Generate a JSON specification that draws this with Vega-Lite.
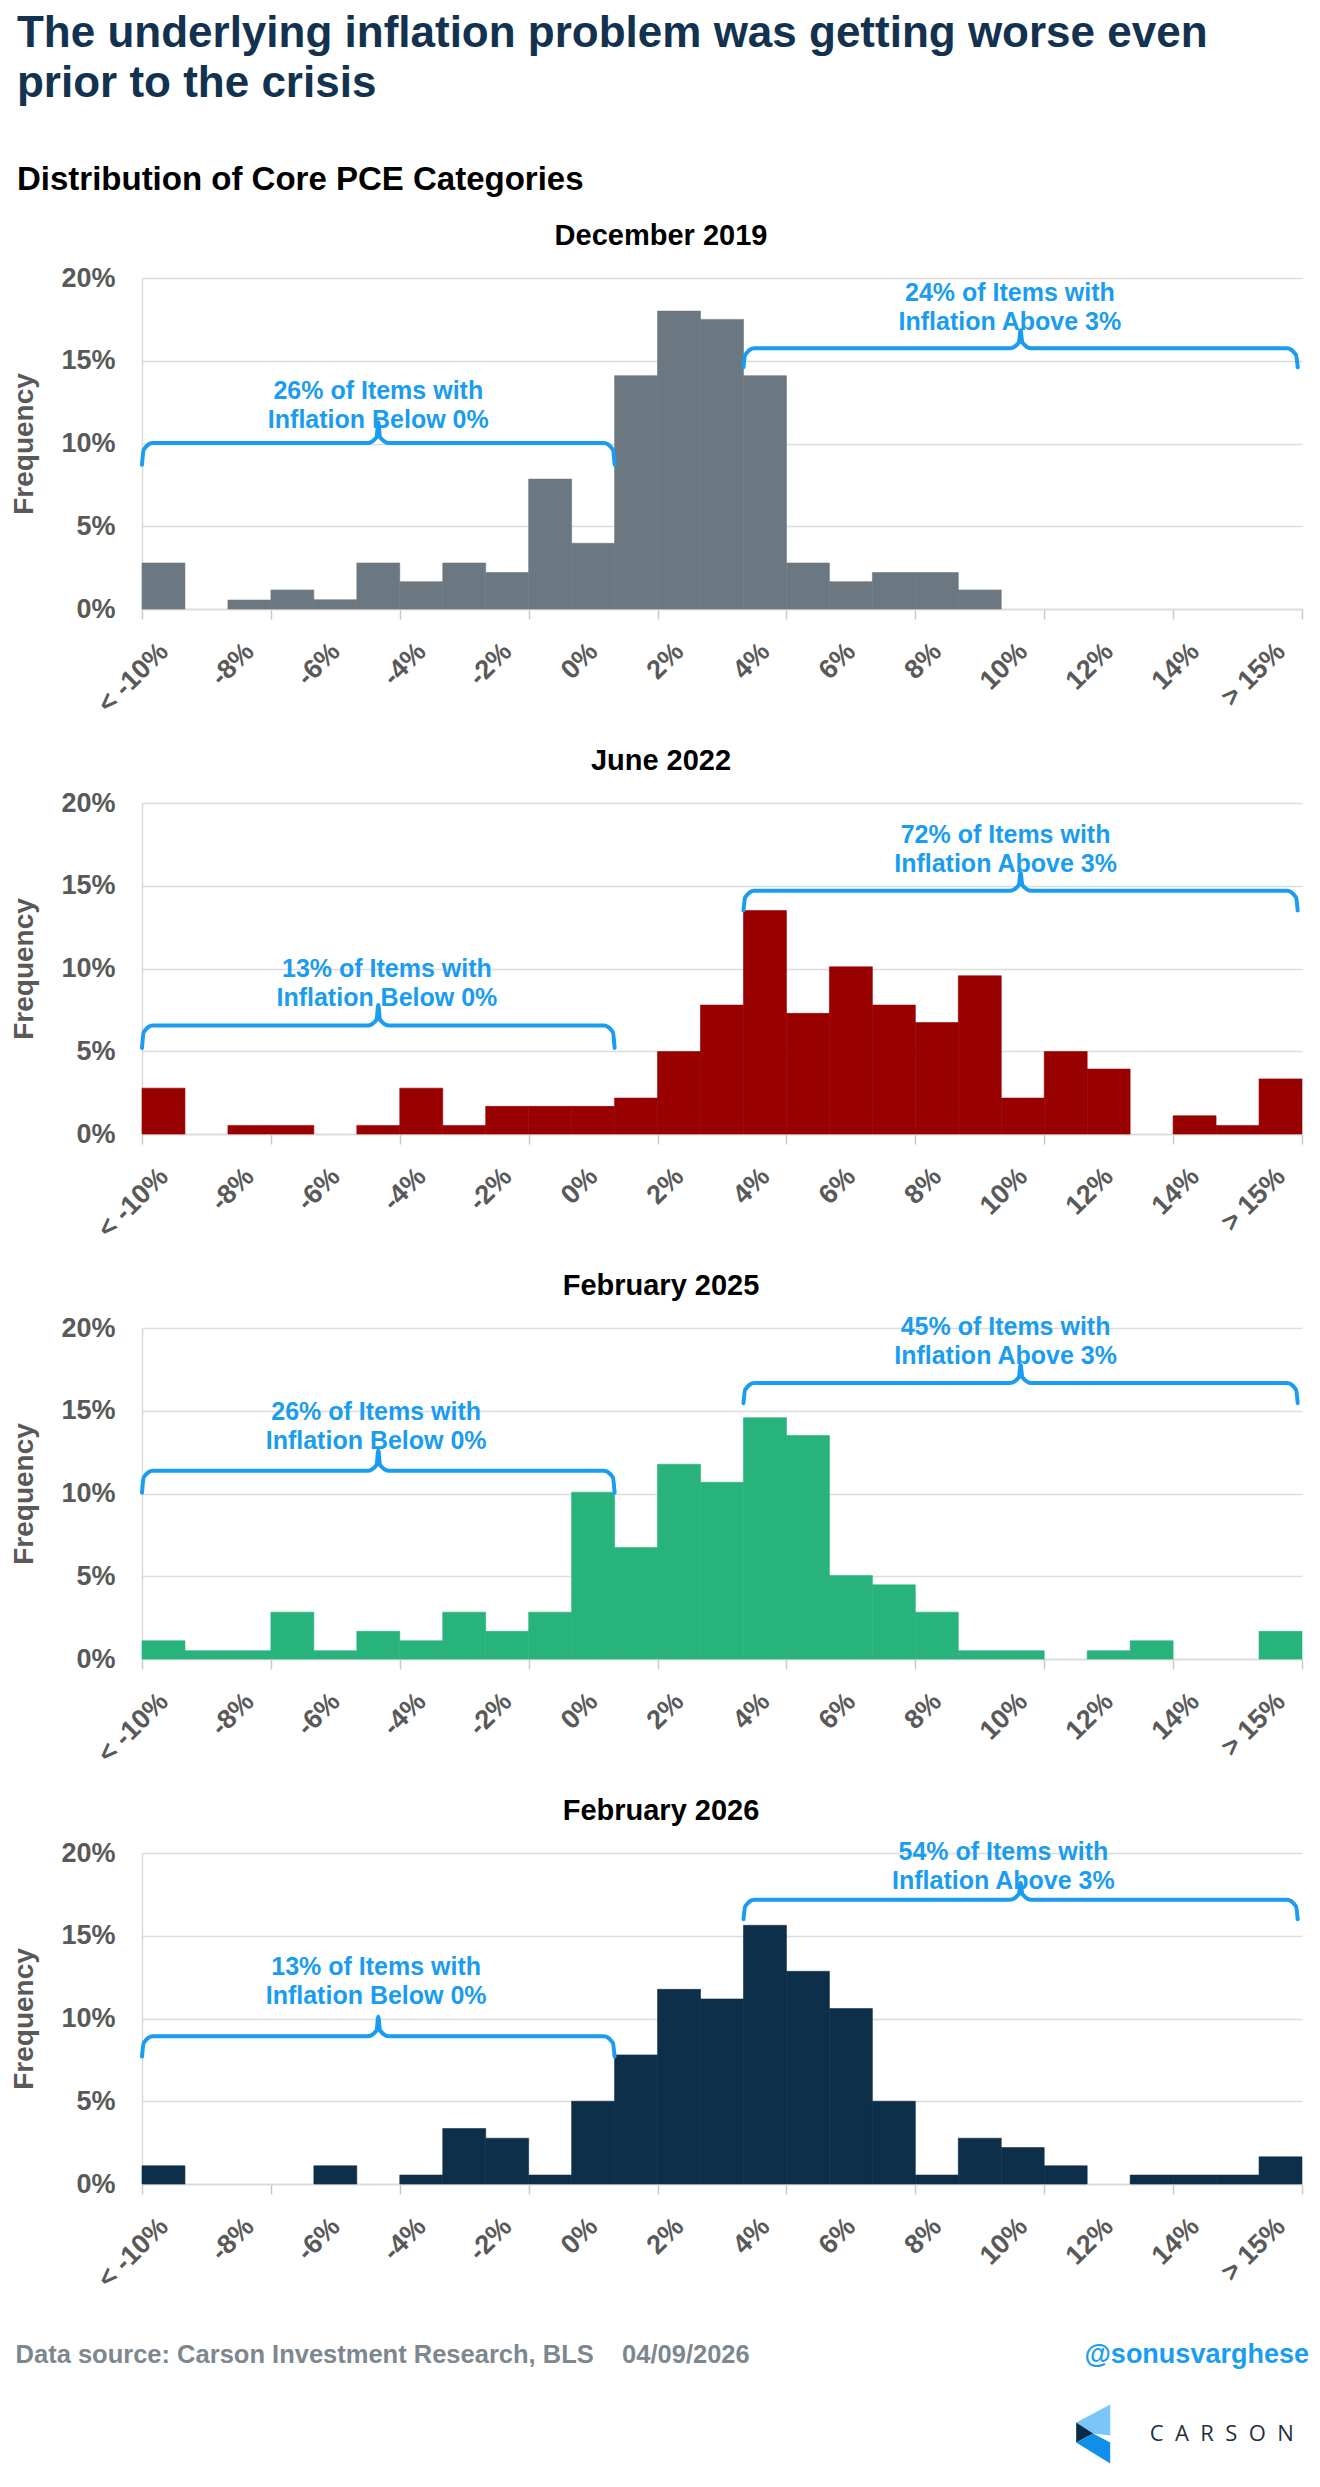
{
  "$schema": "https://vega.github.io/schema/vega-lite/v6.json",
  "background": "white",
  "padding": {"left": 10, "right": 10, "top": 12, "bottom": 10},
  "title": {
    "text": ["The underlying inflation problem was getting worse even", "prior to the crisis"],
    "subtitle": "Distribution of Core PCE Categories",
    "anchor": "start", "frame": "bounds", "dx": 6,
    "font": "Liberation Sans", "fontSize": 44, "fontWeight": "bold", "lineHeight": 50, "color": "#12324f",
    "subtitleFont": "Liberation Sans", "subtitleFontSize": 33, "subtitleFontWeight": "bold", "subtitleColor": "#000000",
    "subtitlePadding": 58, "offset": 25
  },
  "spacing": 29,
  "datasets": {
    "bins": [
      {"panel": "December 2019", "bin": "< -10%", "lo": -11, "hi": -10, "freq": 2.78},
      {"panel": "December 2019", "bin": "-9%", "lo": -10, "hi": -9, "freq": 0},
      {"panel": "December 2019", "bin": "-8%", "lo": -9, "hi": -8, "freq": 0.54},
      {"panel": "December 2019", "bin": "-7%", "lo": -8, "hi": -7, "freq": 1.15},
      {"panel": "December 2019", "bin": "-6%", "lo": -7, "hi": -6, "freq": 0.56},
      {"panel": "December 2019", "bin": "-5%", "lo": -6, "hi": -5, "freq": 2.78},
      {"panel": "December 2019", "bin": "-4%", "lo": -5, "hi": -4, "freq": 1.65},
      {"panel": "December 2019", "bin": "-3%", "lo": -4, "hi": -3, "freq": 2.78},
      {"panel": "December 2019", "bin": "-2%", "lo": -3, "hi": -2, "freq": 2.2},
      {"panel": "December 2019", "bin": "-1%", "lo": -2, "hi": -1, "freq": 7.85},
      {"panel": "December 2019", "bin": "0%", "lo": -1, "hi": 0, "freq": 3.97},
      {"panel": "December 2019", "bin": "1%", "lo": 0, "hi": 1, "freq": 14.1},
      {"panel": "December 2019", "bin": "2%", "lo": 1, "hi": 2, "freq": 18.0},
      {"panel": "December 2019", "bin": "3%", "lo": 2, "hi": 3, "freq": 17.5},
      {"panel": "December 2019", "bin": "4%", "lo": 3, "hi": 4, "freq": 14.1},
      {"panel": "December 2019", "bin": "5%", "lo": 4, "hi": 5, "freq": 2.78},
      {"panel": "December 2019", "bin": "6%", "lo": 5, "hi": 6, "freq": 1.65},
      {"panel": "December 2019", "bin": "7%", "lo": 6, "hi": 7, "freq": 2.2},
      {"panel": "December 2019", "bin": "8%", "lo": 7, "hi": 8, "freq": 2.2},
      {"panel": "December 2019", "bin": "9%", "lo": 8, "hi": 9, "freq": 1.15},
      {"panel": "December 2019", "bin": "10%", "lo": 9, "hi": 10, "freq": 0},
      {"panel": "December 2019", "bin": "11%", "lo": 10, "hi": 11, "freq": 0},
      {"panel": "December 2019", "bin": "12%", "lo": 11, "hi": 12, "freq": 0},
      {"panel": "December 2019", "bin": "13%", "lo": 12, "hi": 13, "freq": 0},
      {"panel": "December 2019", "bin": "14%", "lo": 13, "hi": 14, "freq": 0},
      {"panel": "December 2019", "bin": "15%", "lo": 14, "hi": 15, "freq": 0},
      {"panel": "December 2019", "bin": "> 15%", "lo": 15, "hi": 16, "freq": 0},

      {"panel": "June 2022", "bin": "< -10%", "lo": -11, "hi": -10, "freq": 2.77},
      {"panel": "June 2022", "bin": "-9%", "lo": -10, "hi": -9, "freq": 0},
      {"panel": "June 2022", "bin": "-8%", "lo": -9, "hi": -8, "freq": 0.52},
      {"panel": "June 2022", "bin": "-7%", "lo": -8, "hi": -7, "freq": 0.52},
      {"panel": "June 2022", "bin": "-6%", "lo": -7, "hi": -6, "freq": 0},
      {"panel": "June 2022", "bin": "-5%", "lo": -6, "hi": -5, "freq": 0.52},
      {"panel": "June 2022", "bin": "-4%", "lo": -5, "hi": -4, "freq": 2.77},
      {"panel": "June 2022", "bin": "-3%", "lo": -4, "hi": -3, "freq": 0.52},
      {"panel": "June 2022", "bin": "-2%", "lo": -3, "hi": -2, "freq": 1.67},
      {"panel": "June 2022", "bin": "-1%", "lo": -2, "hi": -1, "freq": 1.67},
      {"panel": "June 2022", "bin": "0%", "lo": -1, "hi": 0, "freq": 1.67},
      {"panel": "June 2022", "bin": "1%", "lo": 0, "hi": 1, "freq": 2.17},
      {"panel": "June 2022", "bin": "2%", "lo": 1, "hi": 2, "freq": 4.98},
      {"panel": "June 2022", "bin": "3%", "lo": 2, "hi": 3, "freq": 7.79},
      {"panel": "June 2022", "bin": "4%", "lo": 3, "hi": 4, "freq": 13.5},
      {"panel": "June 2022", "bin": "5%", "lo": 4, "hi": 5, "freq": 7.29},
      {"panel": "June 2022", "bin": "6%", "lo": 5, "hi": 6, "freq": 10.1},
      {"panel": "June 2022", "bin": "7%", "lo": 6, "hi": 7, "freq": 7.79},
      {"panel": "June 2022", "bin": "8%", "lo": 7, "hi": 8, "freq": 6.73},
      {"panel": "June 2022", "bin": "9%", "lo": 8, "hi": 9, "freq": 9.56},
      {"panel": "June 2022", "bin": "10%", "lo": 9, "hi": 10, "freq": 2.17},
      {"panel": "June 2022", "bin": "11%", "lo": 10, "hi": 11, "freq": 4.98},
      {"panel": "June 2022", "bin": "12%", "lo": 11, "hi": 12, "freq": 3.92},
      {"panel": "June 2022", "bin": "13%", "lo": 12, "hi": 13, "freq": 0},
      {"panel": "June 2022", "bin": "14%", "lo": 13, "hi": 14, "freq": 1.1},
      {"panel": "June 2022", "bin": "15%", "lo": 14, "hi": 15, "freq": 0.52},
      {"panel": "June 2022", "bin": "> 15%", "lo": 15, "hi": 16, "freq": 3.33},

      {"panel": "February 2025", "bin": "< -10%", "lo": -11, "hi": -10, "freq": 1.1},
      {"panel": "February 2025", "bin": "-9%", "lo": -10, "hi": -9, "freq": 0.5},
      {"panel": "February 2025", "bin": "-8%", "lo": -9, "hi": -8, "freq": 0.5},
      {"panel": "February 2025", "bin": "-7%", "lo": -8, "hi": -7, "freq": 2.83},
      {"panel": "February 2025", "bin": "-6%", "lo": -7, "hi": -6, "freq": 0.5},
      {"panel": "February 2025", "bin": "-5%", "lo": -6, "hi": -5, "freq": 1.67},
      {"panel": "February 2025", "bin": "-4%", "lo": -5, "hi": -4, "freq": 1.1},
      {"panel": "February 2025", "bin": "-3%", "lo": -4, "hi": -3, "freq": 2.83},
      {"panel": "February 2025", "bin": "-2%", "lo": -3, "hi": -2, "freq": 1.67},
      {"panel": "February 2025", "bin": "-1%", "lo": -2, "hi": -1, "freq": 2.83},
      {"panel": "February 2025", "bin": "0%", "lo": -1, "hi": 0, "freq": 10.08},
      {"panel": "February 2025", "bin": "1%", "lo": 0, "hi": 1, "freq": 6.73},
      {"panel": "February 2025", "bin": "2%", "lo": 1, "hi": 2, "freq": 11.77},
      {"panel": "February 2025", "bin": "3%", "lo": 2, "hi": 3, "freq": 10.68},
      {"panel": "February 2025", "bin": "4%", "lo": 3, "hi": 4, "freq": 14.58},
      {"panel": "February 2025", "bin": "5%", "lo": 4, "hi": 5, "freq": 13.5},
      {"panel": "February 2025", "bin": "6%", "lo": 5, "hi": 6, "freq": 5.04},
      {"panel": "February 2025", "bin": "7%", "lo": 6, "hi": 7, "freq": 4.48},
      {"panel": "February 2025", "bin": "8%", "lo": 7, "hi": 8, "freq": 2.83},
      {"panel": "February 2025", "bin": "9%", "lo": 8, "hi": 9, "freq": 0.5},
      {"panel": "February 2025", "bin": "10%", "lo": 9, "hi": 10, "freq": 0.5},
      {"panel": "February 2025", "bin": "11%", "lo": 10, "hi": 11, "freq": 0},
      {"panel": "February 2025", "bin": "12%", "lo": 11, "hi": 12, "freq": 0.5},
      {"panel": "February 2025", "bin": "13%", "lo": 12, "hi": 13, "freq": 1.1},
      {"panel": "February 2025", "bin": "14%", "lo": 13, "hi": 14, "freq": 0},
      {"panel": "February 2025", "bin": "15%", "lo": 14, "hi": 15, "freq": 0},
      {"panel": "February 2025", "bin": "> 15%", "lo": 15, "hi": 16, "freq": 1.67},

      {"panel": "February 2026", "bin": "< -10%", "lo": -11, "hi": -10, "freq": 1.1},
      {"panel": "February 2026", "bin": "-9%", "lo": -10, "hi": -9, "freq": 0},
      {"panel": "February 2026", "bin": "-8%", "lo": -9, "hi": -8, "freq": 0},
      {"panel": "February 2026", "bin": "-7%", "lo": -8, "hi": -7, "freq": 0},
      {"panel": "February 2026", "bin": "-6%", "lo": -7, "hi": -6, "freq": 1.1},
      {"panel": "February 2026", "bin": "-5%", "lo": -6, "hi": -5, "freq": 0},
      {"panel": "February 2026", "bin": "-4%", "lo": -5, "hi": -4, "freq": 0.54},
      {"panel": "February 2026", "bin": "-3%", "lo": -4, "hi": -3, "freq": 3.35},
      {"panel": "February 2026", "bin": "-2%", "lo": -3, "hi": -2, "freq": 2.77},
      {"panel": "February 2026", "bin": "-1%", "lo": -2, "hi": -1, "freq": 0.54},
      {"panel": "February 2026", "bin": "0%", "lo": -1, "hi": 0, "freq": 5.0},
      {"panel": "February 2026", "bin": "1%", "lo": 0, "hi": 1, "freq": 7.8},
      {"panel": "February 2026", "bin": "2%", "lo": 1, "hi": 2, "freq": 11.76},
      {"panel": "February 2026", "bin": "3%", "lo": 2, "hi": 3, "freq": 11.18},
      {"panel": "February 2026", "bin": "4%", "lo": 3, "hi": 4, "freq": 15.63},
      {"panel": "February 2026", "bin": "5%", "lo": 4, "hi": 5, "freq": 12.85},
      {"panel": "February 2026", "bin": "6%", "lo": 5, "hi": 6, "freq": 10.6},
      {"panel": "February 2026", "bin": "7%", "lo": 6, "hi": 7, "freq": 5.0},
      {"panel": "February 2026", "bin": "8%", "lo": 7, "hi": 8, "freq": 0.54},
      {"panel": "February 2026", "bin": "9%", "lo": 8, "hi": 9, "freq": 2.77},
      {"panel": "February 2026", "bin": "10%", "lo": 9, "hi": 10, "freq": 2.2},
      {"panel": "February 2026", "bin": "11%", "lo": 10, "hi": 11, "freq": 1.1},
      {"panel": "February 2026", "bin": "12%", "lo": 11, "hi": 12, "freq": 0},
      {"panel": "February 2026", "bin": "13%", "lo": 12, "hi": 13, "freq": 0.54},
      {"panel": "February 2026", "bin": "14%", "lo": 13, "hi": 14, "freq": 0.54},
      {"panel": "February 2026", "bin": "15%", "lo": 14, "hi": 15, "freq": 0.54},
      {"panel": "February 2026", "bin": "> 15%", "lo": 15, "hi": 16, "freq": 1.64}
    ],
    "brackets": [
      {"panel": "December 2019", "side": "below", "x": -11, "y": 8.72},
      {"panel": "December 2019", "side": "below", "x": -10.96, "y": 9.63},
      {"panel": "December 2019", "side": "below", "x": -10.75, "y": 10.03},
      {"panel": "December 2019", "side": "below", "x": -5.75, "y": 10.03},
      {"panel": "December 2019", "side": "below", "x": -5.54, "y": 10.38},
      {"panel": "December 2019", "side": "below", "x": -5.5, "y": 11.28},
      {"panel": "December 2019", "side": "below", "x": -5.46, "y": 10.38},
      {"panel": "December 2019", "side": "below", "x": -5.25, "y": 10.03},
      {"panel": "December 2019", "side": "below", "x": -0.25, "y": 10.03},
      {"panel": "December 2019", "side": "below", "x": -0.04, "y": 9.63},
      {"panel": "December 2019", "side": "below", "x": 0, "y": 8.72},
      {"panel": "December 2019", "side": "above", "x": 3, "y": 14.6},
      {"panel": "December 2019", "side": "above", "x": 3.04, "y": 15.35},
      {"panel": "December 2019", "side": "above", "x": 3.25, "y": 15.75},
      {"panel": "December 2019", "side": "above", "x": 9.2, "y": 15.75},
      {"panel": "December 2019", "side": "above", "x": 9.41, "y": 16.1},
      {"panel": "December 2019", "side": "above", "x": 9.45, "y": 16.85},
      {"panel": "December 2019", "side": "above", "x": 9.49, "y": 16.1},
      {"panel": "December 2019", "side": "above", "x": 9.7, "y": 15.75},
      {"panel": "December 2019", "side": "above", "x": 15.65, "y": 15.75},
      {"panel": "December 2019", "side": "above", "x": 15.86, "y": 15.35},
      {"panel": "December 2019", "side": "above", "x": 15.9, "y": 14.6},

      {"panel": "June 2022", "side": "below", "x": -11, "y": 5.2},
      {"panel": "June 2022", "side": "below", "x": -10.96, "y": 6.15},
      {"panel": "June 2022", "side": "below", "x": -10.75, "y": 6.55},
      {"panel": "June 2022", "side": "below", "x": -5.75, "y": 6.55},
      {"panel": "June 2022", "side": "below", "x": -5.54, "y": 6.9},
      {"panel": "June 2022", "side": "below", "x": -5.5, "y": 7.8},
      {"panel": "June 2022", "side": "below", "x": -5.46, "y": 6.9},
      {"panel": "June 2022", "side": "below", "x": -5.25, "y": 6.55},
      {"panel": "June 2022", "side": "below", "x": -0.25, "y": 6.55},
      {"panel": "June 2022", "side": "below", "x": -0.04, "y": 6.15},
      {"panel": "June 2022", "side": "below", "x": 0, "y": 5.2},
      {"panel": "June 2022", "side": "above", "x": 3, "y": 13.5},
      {"panel": "June 2022", "side": "above", "x": 3.04, "y": 14.3},
      {"panel": "June 2022", "side": "above", "x": 3.25, "y": 14.7},
      {"panel": "June 2022", "side": "above", "x": 9.2, "y": 14.7},
      {"panel": "June 2022", "side": "above", "x": 9.41, "y": 15.05},
      {"panel": "June 2022", "side": "above", "x": 9.45, "y": 15.8},
      {"panel": "June 2022", "side": "above", "x": 9.49, "y": 15.05},
      {"panel": "June 2022", "side": "above", "x": 9.7, "y": 14.7},
      {"panel": "June 2022", "side": "above", "x": 15.65, "y": 14.7},
      {"panel": "June 2022", "side": "above", "x": 15.86, "y": 14.3},
      {"panel": "June 2022", "side": "above", "x": 15.9, "y": 13.5},

      {"panel": "February 2025", "side": "below", "x": -11, "y": 10.04},
      {"panel": "February 2025", "side": "below", "x": -10.96, "y": 10.97},
      {"panel": "February 2025", "side": "below", "x": -10.75, "y": 11.37},
      {"panel": "February 2025", "side": "below", "x": -5.75, "y": 11.37},
      {"panel": "February 2025", "side": "below", "x": -5.54, "y": 11.72},
      {"panel": "February 2025", "side": "below", "x": -5.5, "y": 12.6},
      {"panel": "February 2025", "side": "below", "x": -5.46, "y": 11.72},
      {"panel": "February 2025", "side": "below", "x": -5.25, "y": 11.37},
      {"panel": "February 2025", "side": "below", "x": -0.25, "y": 11.37},
      {"panel": "February 2025", "side": "below", "x": -0.04, "y": 10.97},
      {"panel": "February 2025", "side": "below", "x": 0, "y": 10.04},
      {"panel": "February 2025", "side": "above", "x": 3, "y": 15.46},
      {"panel": "February 2025", "side": "above", "x": 3.04, "y": 16.27},
      {"panel": "February 2025", "side": "above", "x": 3.25, "y": 16.67},
      {"panel": "February 2025", "side": "above", "x": 9.2, "y": 16.67},
      {"panel": "February 2025", "side": "above", "x": 9.41, "y": 17.02},
      {"panel": "February 2025", "side": "above", "x": 9.45, "y": 17.77},
      {"panel": "February 2025", "side": "above", "x": 9.49, "y": 17.02},
      {"panel": "February 2025", "side": "above", "x": 9.7, "y": 16.67},
      {"panel": "February 2025", "side": "above", "x": 15.65, "y": 16.67},
      {"panel": "February 2025", "side": "above", "x": 15.86, "y": 16.27},
      {"panel": "February 2025", "side": "above", "x": 15.9, "y": 15.46},

      {"panel": "February 2026", "side": "below", "x": -11, "y": 7.7},
      {"panel": "February 2026", "side": "below", "x": -10.96, "y": 8.52},
      {"panel": "February 2026", "side": "below", "x": -10.75, "y": 8.92},
      {"panel": "February 2026", "side": "below", "x": -5.75, "y": 8.92},
      {"panel": "February 2026", "side": "below", "x": -5.54, "y": 9.27},
      {"panel": "February 2026", "side": "below", "x": -5.5, "y": 10.1},
      {"panel": "February 2026", "side": "below", "x": -5.46, "y": 9.27},
      {"panel": "February 2026", "side": "below", "x": -5.25, "y": 8.92},
      {"panel": "February 2026", "side": "below", "x": -0.25, "y": 8.92},
      {"panel": "February 2026", "side": "below", "x": -0.04, "y": 8.52},
      {"panel": "February 2026", "side": "below", "x": 0, "y": 7.7},
      {"panel": "February 2026", "side": "above", "x": 3, "y": 16.0},
      {"panel": "February 2026", "side": "above", "x": 3.04, "y": 16.77},
      {"panel": "February 2026", "side": "above", "x": 3.25, "y": 17.17},
      {"panel": "February 2026", "side": "above", "x": 9.2, "y": 17.17},
      {"panel": "February 2026", "side": "above", "x": 9.41, "y": 17.52},
      {"panel": "February 2026", "side": "above", "x": 9.45, "y": 18.2},
      {"panel": "February 2026", "side": "above", "x": 9.49, "y": 17.52},
      {"panel": "February 2026", "side": "above", "x": 9.7, "y": 17.17},
      {"panel": "February 2026", "side": "above", "x": 15.65, "y": 17.17},
      {"panel": "February 2026", "side": "above", "x": 15.86, "y": 16.77},
      {"panel": "February 2026", "side": "above", "x": 15.9, "y": 16.0}
    ],
    "notes": [
      {"panel": "December 2019", "x": -5.5, "y": 13.2, "text": "26% of Items with\nInflation Below 0%"},
      {"panel": "December 2019", "x": 9.2, "y": 19.1, "text": "24% of Items with\nInflation Above 3%"},
      {"panel": "June 2022", "x": -5.3, "y": 9.95, "text": "13% of Items with\nInflation Below 0%"},
      {"panel": "June 2022", "x": 9.1, "y": 18.05, "text": "72% of Items with\nInflation Above 3%"},
      {"panel": "February 2025", "x": -5.55, "y": 14.93, "text": "26% of Items with\nInflation Below 0%"},
      {"panel": "February 2025", "x": 9.1, "y": 20.05, "text": "45% of Items with\nInflation Above 3%"},
      {"panel": "February 2026", "x": -5.55, "y": 13.1, "text": "13% of Items with\nInflation Below 0%"},
      {"panel": "February 2026", "x": 9.05, "y": 20.09, "text": "54% of Items with\nInflation Above 3%"}
    ],
    "footer": [
      {"item": "source", "label": "Data source: Carson Investment Research, BLS\u00a0\u00a0\u00a0\u00a004/09/2026"},
      {"item": "handle", "label": "@sonusvarghese"},
      {"item": "brand", "label": "C\u00a0\u00a0A\u00a0\u00a0R\u00a0\u00a0S\u00a0\u00a0O\u00a0\u00a0N"}
    ],
    "logo": [
      {"part": "upper"},
      {"part": "vertex"},
      {"part": "lower"}
    ]
  },
  "vconcat": [
    {
      "title": {"text": "December 2019", "frame": "group", "anchor": "middle", "dx": -61, "offset": 13},
      "width": 1160, "height": 331,
      "layer": [
        {
          "data": {"name": "bins"},
          "transform": [{"filter": "datum.panel == 'December 2019'"}],
          "mark": {"type": "rect", "color": "#6b7881", "stroke": "#6b7881"},
          "encoding": {
            "x": {"field": "lo", "type": "quantitative", "title": null,
              "scale": {"domain": [-11, 16], "nice": false, "zero": false},
              "axis": {"values": [-11, -10.5, -8.5, -8, -6.5, -5, -4.5, -2.5, -2, -0.5, 1, 1.5, 3.5, 4, 5.5, 7, 7.5, 9.5, 10, 11.5, 13, 13.5, 15.5, 16],
                "labelExpr": "datum.value == floor(datum.value) ? '' : (datum.value < -10 ? '< -10%' : (datum.value > 15 ? '> 15%' : (datum.value + 0.5) + '%'))",
                "labelAngle": -45, "labelAlign": "right", "labelBaseline": "middle", "labelPadding": 28,
                "labelOverlap": false, "labelBound": false, "labelFlush": false, "grid": false,
                "tickSize": 10, "tickWidth": 1.5, "tickColor": "#c8c8c8",
                "tickOpacity": {"condition": {"test": "datum.value == floor(datum.value)", "value": 1}, "value": 0}}},
            "x2": {"field": "hi"},
            "y": {"field": "freq", "type": "quantitative", "title": "Frequency",
              "scale": {"domain": [0, 20], "nice": false},
              "axis": {"values": [0, 5, 10, 15, 20], "labelExpr": "datum.value + '%'", "grid": true, "ticks": false, "tickSize": 0, "labelPadding": 27, "titlePadding": 22}},
            "y2": {"datum": 0},
            "strokeWidth": {"condition": {"test": "datum.freq == 0", "value": 0}, "value": 0.6}
          }
        },
        {
          "data": {"name": "brackets"},
          "transform": [{"filter": "datum.panel == 'December 2019'"}],
          "mark": {"type": "line", "interpolate": "monotone", "color": "#1a9cf0", "strokeWidth": 4, "strokeCap": "round", "strokeJoin": "round"},
          "encoding": {
            "x": {"field": "x", "type": "quantitative", "title": null},
            "y": {"field": "y", "type": "quantitative", "title": "Frequency"},
            "detail": {"field": "side"}
          }
        },
        {
          "data": {"name": "notes"},
          "transform": [{"filter": "datum.panel == 'December 2019'"}],
          "mark": {"type": "text", "lineBreak": "\n", "align": "center", "baseline": "middle", "fontSize": 25, "fontWeight": "bold", "lineHeight": 29, "color": "#1a9cf0"},
          "encoding": {
            "x": {"field": "x", "type": "quantitative", "title": null},
            "y": {"field": "y", "type": "quantitative", "title": "Frequency"},
            "text": {"field": "text"}
          }
        }
      ]
    },
    {
      "title": {"text": "June 2022", "frame": "group", "anchor": "middle", "dx": -61, "offset": 13},
      "width": 1160, "height": 331,
      "layer": [
        {
          "data": {"name": "bins"},
          "transform": [{"filter": "datum.panel == 'June 2022'"}],
          "mark": {"type": "rect", "color": "#990000", "stroke": "#990000"},
          "encoding": {
            "x": {"field": "lo", "type": "quantitative", "title": null,
              "scale": {"domain": [-11, 16], "nice": false, "zero": false},
              "axis": {"values": [-11, -10.5, -8.5, -8, -6.5, -5, -4.5, -2.5, -2, -0.5, 1, 1.5, 3.5, 4, 5.5, 7, 7.5, 9.5, 10, 11.5, 13, 13.5, 15.5, 16],
                "labelExpr": "datum.value == floor(datum.value) ? '' : (datum.value < -10 ? '< -10%' : (datum.value > 15 ? '> 15%' : (datum.value + 0.5) + '%'))",
                "labelAngle": -45, "labelAlign": "right", "labelBaseline": "middle", "labelPadding": 28,
                "labelOverlap": false, "labelBound": false, "labelFlush": false, "grid": false,
                "tickSize": 10, "tickWidth": 1.5, "tickColor": "#c8c8c8",
                "tickOpacity": {"condition": {"test": "datum.value == floor(datum.value)", "value": 1}, "value": 0}}},
            "x2": {"field": "hi"},
            "y": {"field": "freq", "type": "quantitative", "title": "Frequency",
              "scale": {"domain": [0, 20], "nice": false},
              "axis": {"values": [0, 5, 10, 15, 20], "labelExpr": "datum.value + '%'", "grid": true, "ticks": false, "tickSize": 0, "labelPadding": 27, "titlePadding": 22}},
            "y2": {"datum": 0},
            "strokeWidth": {"condition": {"test": "datum.freq == 0", "value": 0}, "value": 0.6}
          }
        },
        {
          "data": {"name": "brackets"},
          "transform": [{"filter": "datum.panel == 'June 2022'"}],
          "mark": {"type": "line", "interpolate": "monotone", "color": "#1a9cf0", "strokeWidth": 4, "strokeCap": "round", "strokeJoin": "round"},
          "encoding": {
            "x": {"field": "x", "type": "quantitative", "title": null},
            "y": {"field": "y", "type": "quantitative", "title": "Frequency"},
            "detail": {"field": "side"}
          }
        },
        {
          "data": {"name": "notes"},
          "transform": [{"filter": "datum.panel == 'June 2022'"}],
          "mark": {"type": "text", "lineBreak": "\n", "align": "center", "baseline": "middle", "fontSize": 25, "fontWeight": "bold", "lineHeight": 29, "color": "#1a9cf0"},
          "encoding": {
            "x": {"field": "x", "type": "quantitative", "title": null},
            "y": {"field": "y", "type": "quantitative", "title": "Frequency"},
            "text": {"field": "text"}
          }
        }
      ]
    },
    {
      "title": {"text": "February 2025", "frame": "group", "anchor": "middle", "dx": -61, "offset": 13},
      "width": 1160, "height": 331,
      "layer": [
        {
          "data": {"name": "bins"},
          "transform": [{"filter": "datum.panel == 'February 2025'"}],
          "mark": {"type": "rect", "color": "#27b37b", "stroke": "#27b37b"},
          "encoding": {
            "x": {"field": "lo", "type": "quantitative", "title": null,
              "scale": {"domain": [-11, 16], "nice": false, "zero": false},
              "axis": {"values": [-11, -10.5, -8.5, -8, -6.5, -5, -4.5, -2.5, -2, -0.5, 1, 1.5, 3.5, 4, 5.5, 7, 7.5, 9.5, 10, 11.5, 13, 13.5, 15.5, 16],
                "labelExpr": "datum.value == floor(datum.value) ? '' : (datum.value < -10 ? '< -10%' : (datum.value > 15 ? '> 15%' : (datum.value + 0.5) + '%'))",
                "labelAngle": -45, "labelAlign": "right", "labelBaseline": "middle", "labelPadding": 28,
                "labelOverlap": false, "labelBound": false, "labelFlush": false, "grid": false,
                "tickSize": 10, "tickWidth": 1.5, "tickColor": "#c8c8c8",
                "tickOpacity": {"condition": {"test": "datum.value == floor(datum.value)", "value": 1}, "value": 0}}},
            "x2": {"field": "hi"},
            "y": {"field": "freq", "type": "quantitative", "title": "Frequency",
              "scale": {"domain": [0, 20], "nice": false},
              "axis": {"values": [0, 5, 10, 15, 20], "labelExpr": "datum.value + '%'", "grid": true, "ticks": false, "tickSize": 0, "labelPadding": 27, "titlePadding": 22}},
            "y2": {"datum": 0},
            "strokeWidth": {"condition": {"test": "datum.freq == 0", "value": 0}, "value": 0.6}
          }
        },
        {
          "data": {"name": "brackets"},
          "transform": [{"filter": "datum.panel == 'February 2025'"}],
          "mark": {"type": "line", "interpolate": "monotone", "color": "#1a9cf0", "strokeWidth": 4, "strokeCap": "round", "strokeJoin": "round"},
          "encoding": {
            "x": {"field": "x", "type": "quantitative", "title": null},
            "y": {"field": "y", "type": "quantitative", "title": "Frequency"},
            "detail": {"field": "side"}
          }
        },
        {
          "data": {"name": "notes"},
          "transform": [{"filter": "datum.panel == 'February 2025'"}],
          "mark": {"type": "text", "lineBreak": "\n", "align": "center", "baseline": "middle", "fontSize": 25, "fontWeight": "bold", "lineHeight": 29, "color": "#1a9cf0"},
          "encoding": {
            "x": {"field": "x", "type": "quantitative", "title": null},
            "y": {"field": "y", "type": "quantitative", "title": "Frequency"},
            "text": {"field": "text"}
          }
        }
      ]
    },
    {
      "title": {"text": "February 2026", "frame": "group", "anchor": "middle", "dx": -61, "offset": 13},
      "width": 1160, "height": 331,
      "layer": [
        {
          "data": {"name": "bins"},
          "transform": [{"filter": "datum.panel == 'February 2026'"}],
          "mark": {"type": "rect", "color": "#0e2f4a", "stroke": "#0e2f4a"},
          "encoding": {
            "x": {"field": "lo", "type": "quantitative", "title": null,
              "scale": {"domain": [-11, 16], "nice": false, "zero": false},
              "axis": {"values": [-11, -10.5, -8.5, -8, -6.5, -5, -4.5, -2.5, -2, -0.5, 1, 1.5, 3.5, 4, 5.5, 7, 7.5, 9.5, 10, 11.5, 13, 13.5, 15.5, 16],
                "labelExpr": "datum.value == floor(datum.value) ? '' : (datum.value < -10 ? '< -10%' : (datum.value > 15 ? '> 15%' : (datum.value + 0.5) + '%'))",
                "labelAngle": -45, "labelAlign": "right", "labelBaseline": "middle", "labelPadding": 28,
                "labelOverlap": false, "labelBound": false, "labelFlush": false, "grid": false,
                "tickSize": 10, "tickWidth": 1.5, "tickColor": "#c8c8c8",
                "tickOpacity": {"condition": {"test": "datum.value == floor(datum.value)", "value": 1}, "value": 0}}},
            "x2": {"field": "hi"},
            "y": {"field": "freq", "type": "quantitative", "title": "Frequency",
              "scale": {"domain": [0, 20], "nice": false},
              "axis": {"values": [0, 5, 10, 15, 20], "labelExpr": "datum.value + '%'", "grid": true, "ticks": false, "tickSize": 0, "labelPadding": 27, "titlePadding": 22}},
            "y2": {"datum": 0},
            "strokeWidth": {"condition": {"test": "datum.freq == 0", "value": 0}, "value": 0.6}
          }
        },
        {
          "data": {"name": "brackets"},
          "transform": [{"filter": "datum.panel == 'February 2026'"}],
          "mark": {"type": "line", "interpolate": "monotone", "color": "#1a9cf0", "strokeWidth": 4, "strokeCap": "round", "strokeJoin": "round"},
          "encoding": {
            "x": {"field": "x", "type": "quantitative", "title": null},
            "y": {"field": "y", "type": "quantitative", "title": "Frequency"},
            "detail": {"field": "side"}
          }
        },
        {
          "data": {"name": "notes"},
          "transform": [{"filter": "datum.panel == 'February 2026'"}],
          "mark": {"type": "text", "lineBreak": "\n", "align": "center", "baseline": "middle", "fontSize": 25, "fontWeight": "bold", "lineHeight": 29, "color": "#1a9cf0"},
          "encoding": {
            "x": {"field": "x", "type": "quantitative", "title": null},
            "y": {"field": "y", "type": "quantitative", "title": "Frequency"},
            "text": {"field": "text"}
          }
        }
      ]
    },
    {
      "width": 1160, "height": 150,
      "layer": [
        {
          "data": {"name": "footer"},
          "transform": [{"filter": "datum.item == 'source'"}],
          "mark": {"type": "text", "align": "left", "baseline": "middle", "fontSize": 25.5, "fontWeight": "bold", "color": "#7d878f"},
          "encoding": {
            "x": {"datum": -0.109, "type": "quantitative", "scale": {"domain": [0, 1]}, "axis": null},
            "y": {"datum": 0.78, "type": "quantitative", "scale": {"domain": [0, 1]}, "axis": null},
            "text": {"field": "label"}
          }
        },
        {
          "data": {"name": "footer"},
          "transform": [{"filter": "datum.item == 'handle'"}],
          "mark": {"type": "text", "align": "right", "baseline": "middle", "fontSize": 27, "fontWeight": "bold", "color": "#1a9cf0"},
          "encoding": {
            "x": {"datum": 1.006, "type": "quantitative"},
            "y": {"datum": 0.78, "type": "quantitative"},
            "text": {"field": "label"}
          }
        },
        {
          "data": {"name": "footer"},
          "transform": [{"filter": "datum.item == 'brand'"}],
          "mark": {"type": "text", "align": "right", "baseline": "middle", "fontSize": 22, "fontWeight": "normal", "font": "Open Sans", "color": "#1f2f40"},
          "encoding": {
            "x": {"datum": 0.993, "type": "quantitative"},
            "y": {"datum": 0.253, "type": "quantitative"},
            "text": {"field": "label"}
          }
        },
        {
          "data": {"name": "logo"},
          "mark": {"type": "point", "filled": true, "opacity": 1, "size": 3481, "strokeWidth": 0},
          "encoding": {
            "x": {"datum": 0.82, "type": "quantitative"},
            "y": {"datum": 0.253, "type": "quantitative"},
            "shape": {"field": "part", "type": "nominal", "legend": null,
              "scale": {"domain": ["upper", "vertex", "lower"],
                "range": ["M-0.576,-0.39L0.576,-1L0.576,0.05L0,-0.017Z", "M-0.576,-0.39L0,-0.017L-0.576,0.288Z", "M-0.576,0.288L0,-0.017L0.576,0.288L0.576,1Z"]}},
            "color": {"field": "part", "type": "nominal", "legend": null,
              "scale": {"domain": ["upper", "vertex", "lower"], "range": ["#7ac6f8", "#0c2b45", "#1090e8"]}}
          }
        }
      ]
    }
  ],
  "config": {
    "font": "Liberation Sans",
    "view": {"stroke": null},
    "axis": {
      "labelFont": "Liberation Sans", "labelFontWeight": "bold", "labelColor": "#595959", "labelFontSize": 27,
      "titleFont": "Liberation Sans", "titleFontWeight": "bold", "titleColor": "#595959", "titleFontSize": 28,
      "domainColor": "#d9d9d9", "domainWidth": 1.5, "gridColor": "#dcdcdc", "gridWidth": 1.5
    },
    "title": {"font": "Liberation Sans", "fontSize": 29, "fontWeight": "bold", "color": "#000000"}
  }
}
